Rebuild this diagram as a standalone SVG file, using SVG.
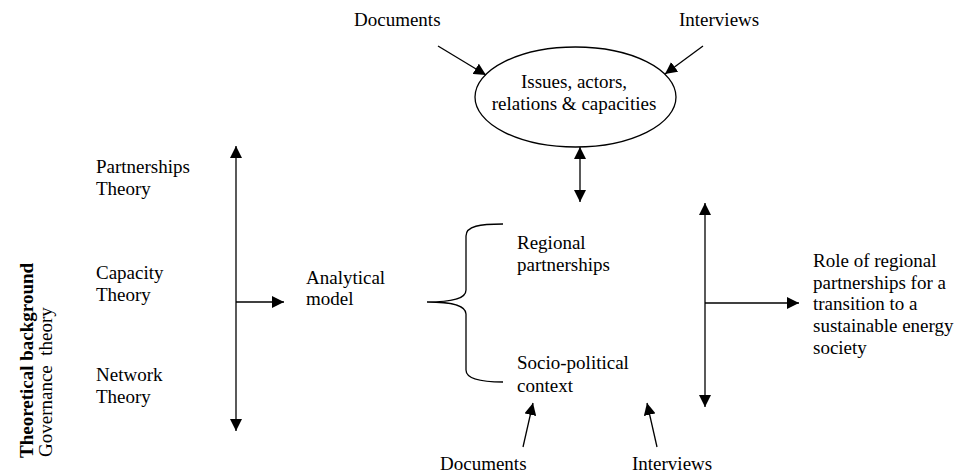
<svg xmlns="http://www.w3.org/2000/svg" width="957" height="475" viewBox="0 0 957 475">
<style>
text{font-family:"Liberation Serif","Times New Roman",serif;font-size:19px;fill:#000}
.c{text-anchor:middle}
.ln{stroke:#000;stroke-width:1.3;fill:none}
.b{font-weight:bold}
</style>
<defs>
<marker id="ah" viewBox="0 0 12 12" refX="12" refY="6" markerWidth="12" markerHeight="12" orient="auto-start-reverse" markerUnits="userSpaceOnUse"><path d="M0,0 L12,6 L0,12 z" fill="#000"/></marker>
</defs>
<rect width="957" height="475" fill="#fff"/>
<g id="connectors">
<line class="ln" x1="438" y1="46" x2="486" y2="75" marker-end="url(#ah)"/>
<line class="ln" x1="703" y1="46" x2="665" y2="74" marker-end="url(#ah)"/>
<line class="ln" x1="580" y1="147" x2="580" y2="202" marker-start="url(#ah)" marker-end="url(#ah)"/>
<line class="ln" x1="236" y1="146" x2="236" y2="431" marker-start="url(#ah)" marker-end="url(#ah)"/>
<line class="ln" x1="236" y1="302" x2="284" y2="302" marker-end="url(#ah)"/>
<line class="ln" x1="705" y1="203" x2="705" y2="407" marker-start="url(#ah)" marker-end="url(#ah)"/>
<line class="ln" x1="705" y1="303" x2="799" y2="303" marker-end="url(#ah)"/>
<line class="ln" x1="523" y1="447" x2="533" y2="403" marker-end="url(#ah)"/>
<line class="ln" x1="657" y1="447" x2="647" y2="403" marker-end="url(#ah)"/>
<path class="ln" d="M503,224 C480,224 466,226 466,236 L466,290 C466,298 455,302 427,302 C455,302 466,306 466,314 L466,370 C466,378 480,382 503,382"/>
</g>
<g id="documents-top"><text x="354" y="26">Documents</text></g>
<g id="interviews-top"><text x="679" y="26">Interviews</text></g>
<g id="issues">
<ellipse cx="575.5" cy="97" rx="100.5" ry="50" class="ln"/>
<text class="c" x="574" y="88">Issues, actors,</text>
<text class="c" x="574" y="110">relations &amp; capacities</text>
</g>
<g id="partnerships-theory"><text x="96" y="173">Partnerships</text><text x="96" y="195">Theory</text></g>
<g id="capacity-theory"><text x="96" y="279">Capacity</text><text x="96" y="301">Theory</text></g>
<g id="network-theory"><text x="96" y="381">Network</text><text x="96" y="403">Theory</text></g>
<g id="analytical-model"><text x="306" y="284">Analytical</text><text x="306" y="305">model</text></g>
<g id="regional-partnerships"><text x="517" y="249">Regional</text><text x="517" y="271">partnerships</text></g>
<g id="socio-political"><text x="517" y="369">Socio-political</text><text x="517" y="392">context</text></g>
<g id="role">
<text x="813" y="267">Role of regional</text>
<text x="813" y="289">partnerships for a</text>
<text x="813" y="310">transition to a</text>
<text x="813" y="332">sustainable energy</text>
<text x="813" y="354">society</text>
</g>
<g id="documents-bottom"><text x="440" y="470">Documents</text></g>
<g id="interviews-bottom"><text x="632" y="470">Interviews</text></g>
<g id="theoretical-background">
<text class="b" transform="translate(33,458) rotate(-90)">Theoretical background</text>
<text transform="translate(52,457) rotate(-90)" xml:space="preserve">Governance  theory</text>
</g>
</svg>
